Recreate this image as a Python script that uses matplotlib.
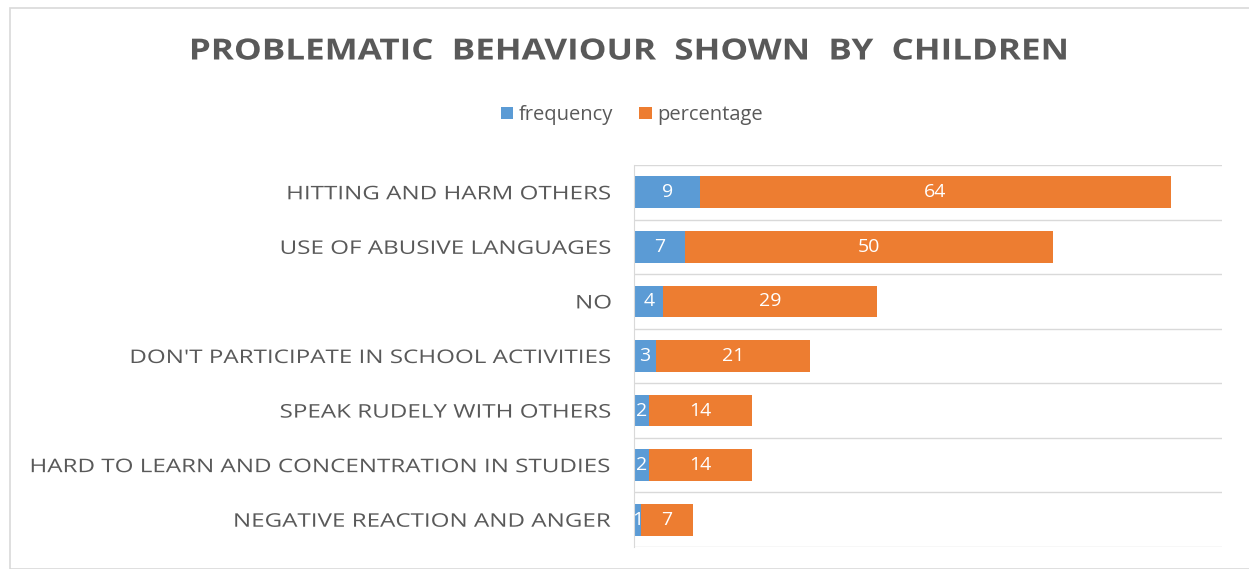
import matplotlib.pyplot as plt
import numpy as np
from matplotlib.patches import Rectangle
from matplotlib.patheffects import AbstractPathEffect
from matplotlib.transforms import Affine2D

categories = ["HITTING AND HARM OTHERS", "USE OF ABUSIVE LANGUAGES", "NO",
              "DON'T PARTICIPATE IN SCHOOL ACTIVITIES", "SPEAK RUDELY WITH OTHERS",
              "HARD TO LEARN AND CONCENTRATION IN STUDIES", "NEGATIVE REACTION AND ANGER"]
frequency = [9, 7, 4, 3, 2, 2, 1]
percentage = [64, 50, 29, 21, 14, 14, 7]

blue = '#5B9BD5'
orange = '#ED7D31'
gray = '#595959'


class Stretch(AbstractPathEffect):
    # widen text horizontally to mimic the letter spacing of the original
    def __init__(self, sx, anchor='right'):
        super().__init__()
        self.sx = sx
        self.anchor = anchor

    def draw_path(self, renderer, gc, tpath, affine, rgbFace=None):
        ext = tpath.get_extents(affine)
        x0 = ext.x1 if self.anchor == 'right' else (ext.x0 + ext.x1) / 2
        tr = affine + Affine2D().translate(-x0, 0).scale(self.sx, 1).translate(x0, 0)
        renderer.draw_path(gc, tpath, tr, rgbFace)


plt.rcParams['font.family'] = ['Open Sans', 'DejaVu Sans']

fig = plt.figure(figsize=(12.49, 5.69), dpi=100)
fig.patches.append(Rectangle((10/1249, 0), 1, 1 - 8/569, transform=fig.transFigure,
                             fill=False, edgecolor='#D9D9D9', linewidth=1.2))

ax = fig.add_axes([634/1249, 1 - 547/569, (1222-634)/1249, (547-165)/569])

y = np.arange(len(categories))
ax.barh(y, frequency, height=0.58, color=blue, label='frequency')
ax.barh(y, percentage, left=frequency, height=0.58, color=orange, label='percentage')

for i in range(len(categories)):
    ax.text(frequency[i] / 2, y[i], str(frequency[i]), ha='center', va='center',
            color='white', fontsize=14)
    ax.text(frequency[i] + percentage[i] / 2, y[i], str(percentage[i]), ha='center',
            va='center', color='white', fontsize=14)

ax.set_xlim(0, 80)
ax.set_ylim(len(categories) - 0.5, -0.5)
ax.set_yticks(y)
ax.set_yticklabels(categories, fontsize=13.5, color=gray)
for lab in ax.get_yticklabels():
    lab.set_path_effects([Stretch(1.29, 'right')])
ax.tick_params(axis='y', length=0, pad=16)
ax.set_xticks([])
for b in np.arange(-0.5, len(categories), 1):
    ax.axhline(b, color='#D9D9D9', linewidth=1)
for s in ['top', 'right', 'bottom']:
    ax.spines[s].set_visible(False)
ax.spines['left'].set_color('#D9D9D9')

title = fig.text(629/1249, 1 - 52/569, 'PROBLEMATIC  BEHAVIOUR  SHOWN  BY  CHILDREN',
                 ha='center', va='center', fontsize=21, fontweight='bold', color=gray)
title.set_path_effects([Stretch(1.2, 'center')])
fig.legend(loc='center', bbox_to_anchor=(632/1249, 1 - 115/569), ncol=2, frameon=False,
           fontsize=14.5, handlelength=0.6, handleheight=0.6, handletextpad=0.3,
           columnspacing=1.3, labelcolor=gray)

fig.savefig('out.png', dpi=100)
